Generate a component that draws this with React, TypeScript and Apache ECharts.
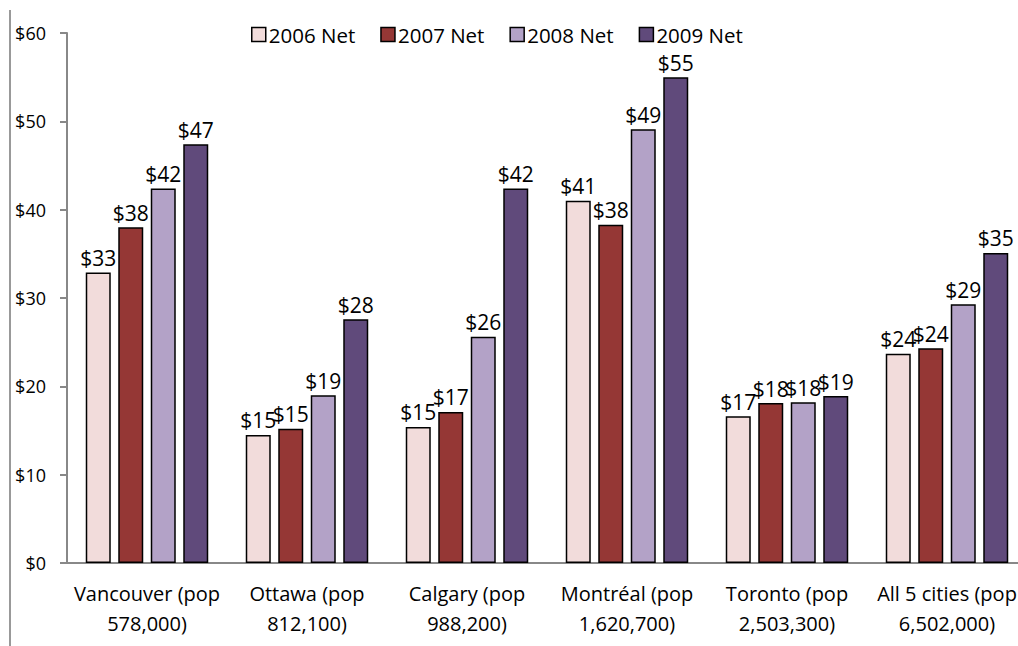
import React, { useEffect, useRef } from "react";
import * as echarts from "echarts";

const categories = [
  "Vancouver (pop\n578,000)",
  "Ottawa (pop\n812,100)",
  "Calgary (pop\n988,200)",
  "Montréal (pop\n1,620,700)",
  "Toronto (pop\n2,503,300)",
  "All 5 cities (pop\n6,502,000)",
];
const seriesNames = ["2006 Net", "2007 Net", "2008 Net", "2009 Net"];
const net2006 = [32.9, 14.5, 15.4, 41.0, 16.6, 23.7];
const net2007 = [38.0, 15.2, 17.1, 38.3, 18.1, 24.3];
const net2008 = [42.4, 19.0, 25.6, 49.1, 18.2, 29.3];
const net2009 = [47.4, 27.6, 42.4, 55.0, 18.9, 35.1];
const colors = ["#F2DCDB", "#953735", "#B3A2C7", "#604A7B"];

const FONT = "'Open Sans', sans-serif";

export default function App() {
  const ref = useRef<HTMLDivElement>(null);
  useEffect(() => {
    if (!ref.current) return;
    const chart = echarts.init(ref.current, null, { renderer: "svg" });
    const data = [net2006, net2007, net2008, net2009];
    chart.setOption({
      animation: false,
      backgroundColor: "#ffffff",
      textStyle: { fontFamily: FONT },
      legend: {
        top: 19,
        left: 246,
        itemWidth: 14,
        itemHeight: 14,
        itemGap: 25,
        icon: "rect",
        textStyle: { fontSize: 20.5, color: "#000", fontFamily: FONT, padding: [0, 0, 0, -2] },
        data: seriesNames.map((n) => ({
          name: n,
          itemStyle: { borderColor: "#000", borderWidth: 1.5 },
        })),
      },
      grid: {
        left: 67,
        top: 33,
        width: 960,
        height: 530,
        containLabel: false,
        outerBoundsMode: "none",
      },
      xAxis: {
        type: "category",
        data: categories,
        axisLine: { lineStyle: { color: "#888", width: 2 } },
        axisTick: { show: false },
        axisLabel: {
          interval: 0,
          fontSize: 20,
          color: "#000",
          fontFamily: FONT,
          lineHeight: 30,
          margin: 15,
        },
      },
      yAxis: {
        type: "value",
        min: 0,
        max: 60,
        interval: 10,
        splitLine: { show: false },
        axisLine: { show: true, lineStyle: { color: "#888", width: 2 } },
        axisTick: { show: true, inside: false, length: 7, lineStyle: { color: "#888", width: 2 } },
        axisLabel: {
          fontSize: 18,
          color: "#000",
          fontFamily: FONT,
          margin: 21,
          formatter: (v: number) => "$" + v,
        },
      },
      graphic: [
        {
          type: "line",
          shape: { x1: 10, y1: 10, x2: 10, y2: 646 },
          style: { stroke: "#999", lineWidth: 2 },
        },
      ],
      series: seriesNames.map((name, i) => ({
        name,
        type: "bar",
        data: data[i],
        barWidth: 25,
        barGap: "30%",
        itemStyle: { color: colors[i], borderColor: "#000", borderWidth: 1.5 },
        label: {
          show: true,
          position: "top",
          distance: 4,
          fontSize: 21,
          color: "#000",
          fontFamily: FONT,
          formatter: (p: any) => "$" + Math.round(p.value),
        },
      })),
    });
    return () => chart.dispose();
  }, []);
  return (
    <div
      ref={ref}
      style={{ position: "fixed", left: 0, top: 0, width: 1018, height: 646 }}
    />
  );
}
